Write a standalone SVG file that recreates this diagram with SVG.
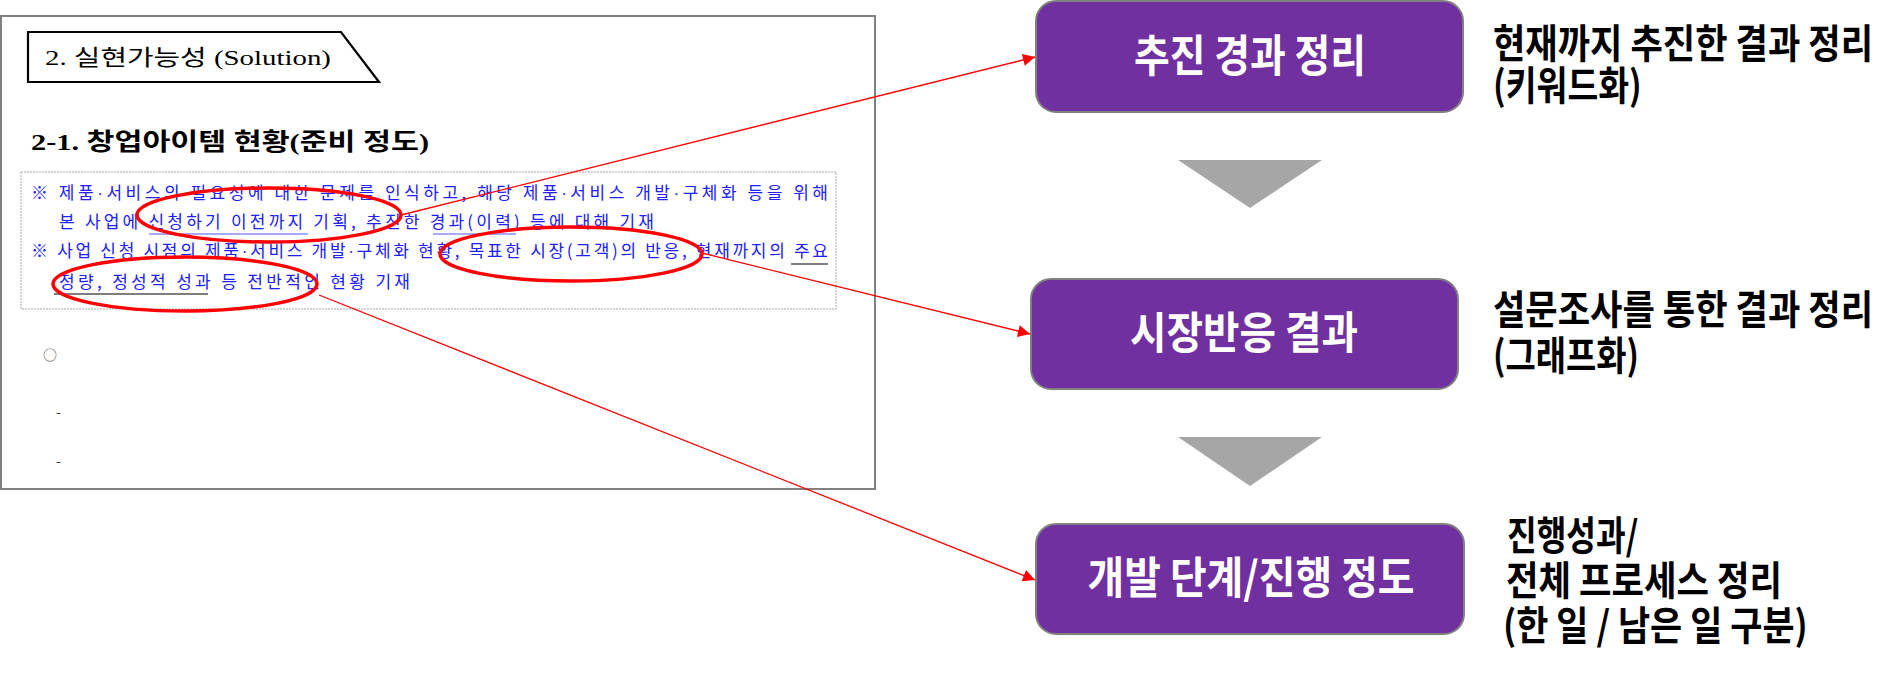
<svg xmlns="http://www.w3.org/2000/svg" width="1903" height="673" viewBox="0 0 1903 673">
<style>
.kr{font-family:"Noto Sans CJK KR","Noto Sans",sans-serif}
.serif{font-family:"Liberation Serif","Noto Sans CJK KR",serif}
.blue{font-family:"Noto Sans CJK KR",sans-serif;font-size:17px;fill:#2020ff}
.dot{font-family:"Liberation Sans",sans-serif}
.node rect{fill:#7030a0;stroke:#808080;stroke-width:2}
.node text{font-family:"Noto Sans CJK KR",sans-serif;font-weight:700;font-size:44px;fill:#ffffff;text-anchor:middle}
.desc{font-family:"Noto Sans CJK KR",sans-serif;font-weight:700;font-size:40px;fill:#000000}
.tri{fill:#a6a6a6}
.oval{fill:none;stroke:#ff0000;stroke-width:3.5}
.conn{stroke:#ff0000;stroke-width:1.3;fill:none;marker-end:url(#arr)}
.ul-b{stroke:#8c8cff;stroke-width:1.5}
.ul-g{stroke:#808080;stroke-width:1.8}
</style>
<defs>
<marker id="arr" viewBox="0 0 10 10" refX="10" refY="5" markerWidth="15" markerHeight="12" markerUnits="userSpaceOnUse" orient="auto">
<path d="M0,0 L10,5 L0,10 z" fill="#ff0000"/>
</marker>
</defs>
<rect width="1903" height="673" fill="#ffffff"/>

<g id="document">
<rect x="1" y="16" width="874" height="473" fill="#ffffff" stroke="#808080" stroke-width="2"/>
<polygon points="28,32 341,32 379,82 28,82" fill="#ffffff" stroke="#000000" stroke-width="2.2"/>
<text class="serif" x="45" y="65" font-size="22" textLength="286" lengthAdjust="spacingAndGlyphs">2. 실현가능성 (Solution)</text>
<text class="serif" x="31" y="150" font-size="24" font-weight="700" textLength="398" lengthAdjust="spacingAndGlyphs">2-1. 창업아이템 현황(준비 정도)</text>
<rect x="21" y="172" width="815" height="137" fill="none" stroke="#a6a6a6" stroke-width="1" stroke-dasharray="2,1"/>
<text class="blue" x="31" y="199" textLength="797" lengthAdjust="spacing">※ 제품<tspan class="dot">·</tspan>서비스의 필요성에 대한 문제를 인식하고, 해당 제품<tspan class="dot">·</tspan>서비스 개발<tspan class="dot">·</tspan>구체화 등을 위해</text>
<text class="blue" x="59" y="228" textLength="595" lengthAdjust="spacing">본 사업에 신청하기 이전까지 기획, 추진한 경과(이력) 등에 대해 기재</text>
<text class="blue" x="31" y="257" textLength="797" lengthAdjust="spacing">※ 사업 신청 시점의 제품<tspan class="dot">·</tspan>서비스 개발<tspan class="dot">·</tspan>구체화 현황, 목표한 시장(고객)의 반응, 현재까지의 주요</text>
<text class="blue" x="59" y="288" textLength="351" lengthAdjust="spacing">정량, 정성적 성과 등 전반적인 현황 기재</text>
<line class="ul-b" x1="149" y1="234" x2="308" y2="234"/>
<line class="ul-b" x1="433" y1="234" x2="516" y2="234"/>
<line class="ul-g" x1="791" y1="264" x2="828" y2="264"/>
<line class="ul-g" x1="54" y1="294" x2="208" y2="294"/>
<text class="kr" x="43" y="360" font-size="14" fill="#555555">○</text>
<text class="kr" x="56" y="417" font-size="14" fill="#333333">-</text>
<text class="kr" x="56" y="466" font-size="14" fill="#333333">-</text>
</g>

<g id="highlights">
<ellipse class="oval" cx="269" cy="215" rx="132" ry="27"/>
<ellipse class="oval" cx="571" cy="254" rx="131" ry="27"/>
<ellipse class="oval" cx="185" cy="284" rx="132" ry="27"/>
</g>

<g id="connectors">
<line class="conn" x1="401" y1="215" x2="1035" y2="57"/>
<line class="conn" x1="702" y1="253" x2="1030" y2="334"/>
<line class="conn" x1="319" y1="295" x2="1035" y2="580"/>
</g>

<g id="flow-arrows">
<polygon class="tri" points="1178,160 1322,160 1250,208"/>
<polygon class="tri" points="1178,437 1322,437 1250,486"/>
</g>

<g id="node-1" class="node">
<rect x="1036" y="1" width="427" height="111" rx="20"/>
<text x="1250" y="72" textLength="232" lengthAdjust="spacingAndGlyphs">추진 경과 정리</text>
</g>
<g id="node-2" class="node">
<rect x="1031" y="279" width="427" height="110" rx="20"/>
<text x="1244" y="349" textLength="228" lengthAdjust="spacingAndGlyphs">시장반응 결과</text>
</g>
<g id="node-3" class="node">
<rect x="1036" y="524" width="428" height="110" rx="20"/>
<text x="1251" y="594" textLength="327" lengthAdjust="spacingAndGlyphs">개발 단계/진행 정도</text>
</g>

<g id="desc-1">
<text class="desc" transform="translate(1493,58) scale(0.8,1)" textLength="475" lengthAdjust="spacingAndGlyphs">현재까지 추진한 결과 정리</text>
<text class="desc" transform="translate(1493,100) scale(0.8,1)" textLength="186" lengthAdjust="spacingAndGlyphs">(키워드화)</text>
</g>
<g id="desc-2">
<text class="desc" transform="translate(1493,324) scale(0.8,1)" textLength="475" lengthAdjust="spacingAndGlyphs">설문조사를 통한 결과 정리</text>
<text class="desc" transform="translate(1493,370) scale(0.8,1)" textLength="182.5" lengthAdjust="spacingAndGlyphs">(그래프화)</text>
</g>
<g id="desc-3">
<text class="desc" transform="translate(1507,550) scale(0.8,1)" textLength="164" lengthAdjust="spacingAndGlyphs">진행성과/</text>
<text class="desc" transform="translate(1506,595) scale(0.8,1)" textLength="345" lengthAdjust="spacingAndGlyphs">전체 프로세스 정리</text>
<text class="desc" transform="translate(1503,640) scale(0.8,1)" textLength="381" lengthAdjust="spacingAndGlyphs">(한 일 / 남은 일 구분)</text>
</g>
</svg>
